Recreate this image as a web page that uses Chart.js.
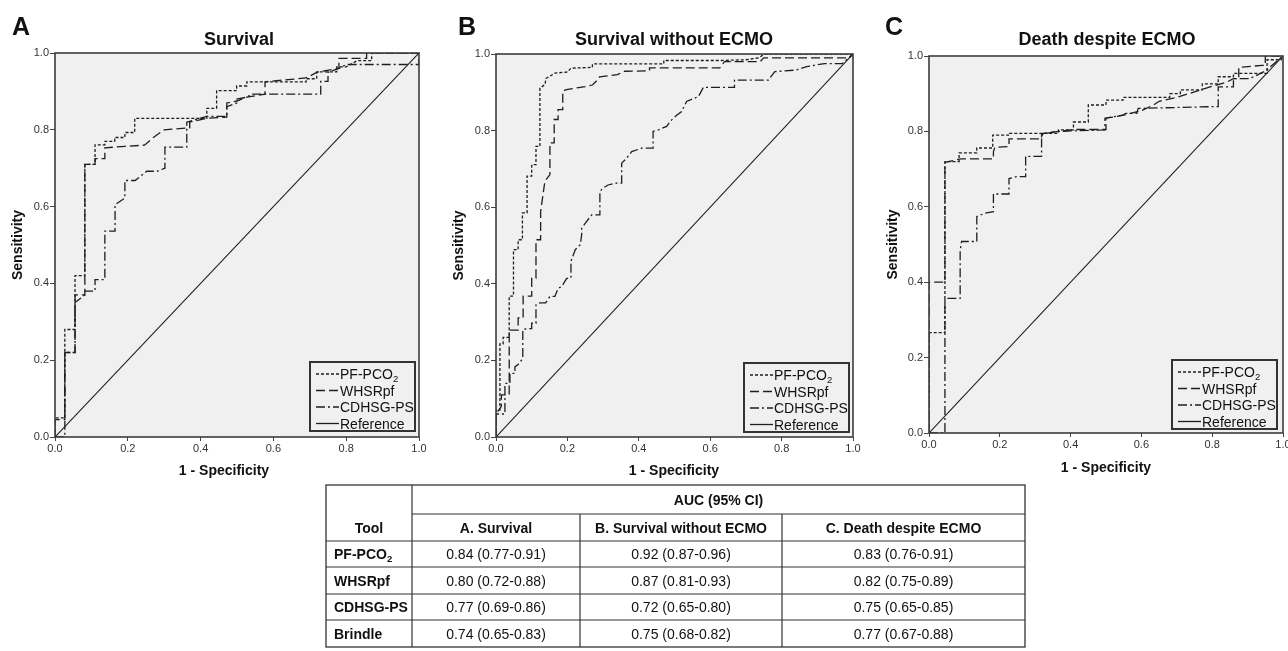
<!DOCTYPE html>
<html><head><meta charset="utf-8">
<script src="https://cdn.jsdelivr.net/npm/chart.js@4.4.1/dist/chart.umd.min.js"></script>
<style>
html,body{margin:0;padding:0;background:#fff;width:1288px;height:651px;overflow:hidden;position:relative;}
canvas{position:absolute;top:0;}
#ov{position:absolute;left:0;top:0;}
</style></head><body>
<canvas id="cA"></canvas><canvas id="cB"></canvas><canvas id="cC"></canvas>
<svg id="ov" width="1288" height="651" xmlns="http://www.w3.org/2000/svg"></svg>
<script>
// ---------------- data ----------------
const AXIS_TICKS = [0, 0.2, 0.4, 0.6, 0.8, 1.0];
const SERIES_NAMES = ['PF-PCO2', 'WHSRpf', 'CDHSG-PS', 'Reference'];
const PANEL_LETTERS = ['A', 'B', 'C'];
const PANEL_TITLES = ['Survival', 'Survival without ECMO', 'Death despite ECMO'];
const X_TITLE = '1 - Specificity';
const Y_TITLE = 'Sensitivity';

// Panel A - Survival
const A_PF_X = [0,0,0.027,0.027,0.055,0.055,0.082,0.082,0.11,0.11,0.137,0.137,0.164,0.164,0.192,0.192,0.219,0.219,0.417,0.417,0.444,0.444,0.499,0.499,0.527,0.527,0.69,0.69,0.719,0.719,0.774,0.774,0.80,0.83,0.87,0.87,1];
const A_PF_Y = [0,0.05,0.05,0.28,0.28,0.42,0.42,0.71,0.71,0.761,0.761,0.77,0.77,0.78,0.78,0.793,0.793,0.83,0.83,0.856,0.856,0.902,0.902,0.914,0.914,0.925,0.925,0.933,0.933,0.951,0.951,0.964,0.964,0.98,0.98,1,1];
const A_WH_X = [0,0,0.027,0.027,0.055,0.055,0.082,0.082,0.11,0.11,0.137,0.137,0.192,0.246,0.27,0.30,0.37,0.37,0.417,0.472,0.472,0.50,0.527,0.577,0.577,0.69,0.72,0.78,0.78,0.856,0.856,1];
const A_WH_Y = [0,0.045,0.045,0.22,0.22,0.37,0.37,0.71,0.71,0.725,0.725,0.753,0.757,0.76,0.78,0.80,0.805,0.82,0.83,0.833,0.87,0.875,0.885,0.893,0.925,0.935,0.95,0.96,0.986,0.986,1,1];
const A_CD_X = [0,0.027,0.027,0.055,0.055,0.082,0.082,0.11,0.11,0.137,0.137,0.165,0.165,0.192,0.192,0.22,0.252,0.28,0.302,0.302,0.362,0.362,0.417,0.472,0.472,0.50,0.50,0.527,0.54,0.73,0.73,0.75,0.75,0.78,0.80,1,1];
const A_CD_Y = [0,0,0.22,0.22,0.35,0.37,0.38,0.38,0.41,0.41,0.536,0.536,0.605,0.622,0.668,0.668,0.692,0.692,0.70,0.755,0.755,0.82,0.835,0.835,0.86,0.87,0.88,0.885,0.893,0.893,0.926,0.926,0.95,0.96,0.97,0.97,1];

// Panel B - Survival without ECMO
const B_PF_X = [0,0,0.011,0.011,0.02,0.02,0.037,0.037,0.049,0.049,0.062,0.062,0.074,0.074,0.087,0.087,0.10,0.10,0.112,0.112,0.123,0.123,0.137,0.14,0.151,0.165,0.20,0.21,0.27,0.27,0.47,0.47,0.63,0.70,0.735,0.753,1];
const B_PF_Y = [0,0.07,0.07,0.243,0.243,0.26,0.26,0.368,0.368,0.489,0.489,0.515,0.515,0.585,0.585,0.681,0.681,0.711,0.711,0.759,0.759,0.911,0.92,0.936,0.942,0.95,0.953,0.963,0.965,0.974,0.974,0.983,0.983,0.985,0.99,1,1];
const B_WH_X = [0,0,0.015,0.015,0.037,0.037,0.062,0.062,0.076,0.076,0.10,0.10,0.112,0.112,0.125,0.125,0.137,0.151,0.151,0.163,0.163,0.174,0.174,0.187,0.187,0.197,0.25,0.27,0.28,0.29,0.34,0.36,0.43,0.43,0.627,0.64,0.74,0.75,0.99,1];
const B_WH_Y = [0,0.06,0.08,0.11,0.11,0.279,0.279,0.311,0.311,0.368,0.368,0.415,0.415,0.515,0.515,0.589,0.668,0.685,0.768,0.768,0.829,0.829,0.855,0.855,0.903,0.907,0.915,0.919,0.928,0.94,0.946,0.955,0.956,0.964,0.964,0.98,0.98,0.99,0.99,1];
const B_CD_X = [0,0,0.025,0.025,0.039,0.039,0.053,0.053,0.0625,0.075,0.075,0.086,0.10,0.10,0.112,0.112,0.123,0.139,0.151,0.165,0.174,0.184,0.198,0.21,0.21,0.222,0.236,0.24,0.24,0.254,0.268,0.291,0.291,0.30,0.314,0.338,0.352,0.352,0.366,0.38,0.408,0.44,0.44,0.455,0.478,0.492,0.506,0.52,0.534,0.567,0.581,0.668,0.668,0.763,0.781,0.84,0.87,0.92,0.97,1];
const B_CD_Y = [0,0.06,0.06,0.14,0.14,0.166,0.166,0.183,0.19,0.205,0.28,0.283,0.283,0.297,0.297,0.345,0.35,0.35,0.367,0.367,0.388,0.393,0.414,0.415,0.459,0.489,0.502,0.528,0.545,0.563,0.58,0.58,0.641,0.65,0.658,0.663,0.663,0.715,0.728,0.745,0.754,0.754,0.798,0.802,0.811,0.828,0.84,0.85,0.876,0.889,0.913,0.913,0.932,0.932,0.954,0.958,0.967,0.975,0.975,1];

// Panel C - Death despite ECMO
const C_PF_X = [0,0,0.045,0.045,0.085,0.085,0.135,0.135,0.18,0.18,0.227,0.227,0.366,0.366,0.408,0.408,0.45,0.45,0.50,0.50,0.548,0.548,0.68,0.68,0.71,0.71,0.772,0.772,0.817,0.817,0.86,0.86,0.955,0.955,0.995,0.995,1];
const C_PF_Y = [0,0.266,0.266,0.72,0.72,0.743,0.743,0.756,0.756,0.79,0.79,0.795,0.795,0.804,0.804,0.825,0.825,0.87,0.87,0.883,0.883,0.89,0.89,0.90,0.90,0.91,0.91,0.926,0.926,0.945,0.945,0.954,0.954,0.99,0.99,1,1];
const C_WH_X = [0,0,0.045,0.045,0.09,0.172,0.182,0.182,0.186,0.224,0.226,0.226,0.31,0.318,0.318,0.366,0.408,0.50,0.50,0.55,0.60,0.634,0.65,0.70,0.75,0.80,0.84,0.86,0.875,0.875,0.94,0.95,0.95,1];
const C_WH_Y = [0,0.40,0.40,0.718,0.727,0.727,0.727,0.746,0.758,0.76,0.76,0.78,0.78,0.78,0.794,0.80,0.805,0.805,0.835,0.843,0.855,0.87,0.88,0.89,0.905,0.92,0.93,0.94,0.94,0.97,0.975,0.975,1,1];
const C_CD_X = [0,0.045,0.045,0.088,0.088,0.092,0.135,0.135,0.158,0.182,0.182,0.226,0.226,0.248,0.273,0.273,0.318,0.318,0.323,0.366,0.497,0.497,0.547,0.556,0.587,0.591,0.817,0.817,0.86,0.86,0.906,0.95,1];
const C_CD_Y = [0,0,0.357,0.357,0.483,0.508,0.508,0.574,0.583,0.587,0.634,0.634,0.675,0.68,0.68,0.734,0.734,0.787,0.794,0.80,0.804,0.835,0.843,0.848,0.848,0.861,0.866,0.918,0.918,0.94,0.94,0.96,1];

const REF_X = [0, 1];
const REF_Y = [0, 1];

// Table
const TABLE_GROUP = 'AUC (95% CI)';
const TABLE_HEAD = ['Tool', 'A. Survival', 'B. Survival without ECMO', 'C. Death despite ECMO'];
const TOOLS = ['PF-PCO2', 'WHSRpf', 'CDHSG-PS', 'Brindle'];
const AUC_A = ['0.84 (0.77-0.91)', '0.80 (0.72-0.88)', '0.77 (0.69-0.86)', '0.74 (0.65-0.83)'];
const AUC_B = ['0.92 (0.87-0.96)', '0.87 (0.81-0.93)', '0.72 (0.65-0.80)', '0.75 (0.68-0.82)'];
const AUC_C = ['0.83 (0.76-0.91)', '0.82 (0.75-0.89)', '0.75 (0.65-0.85)', '0.77 (0.67-0.88)'];

// ---------------- styles / layout ----------------
const DASHES = [[3,2], [9,4], [9,3,2,3], []];
const LINE_COLOR = '#1e1e1e';
const PLOT_BG = '#f0f0f0';
const CANVAS_H = 480;
const PANELS = [
  {id:'cA', cl:0,   cw:440, area:{left:55, top:53, right:419, bottom:437}, letterX:12, titleX:239, xTitle:{x:224,y:475}, yTitleX:22, legend:{x:310,y:362},
   series:[[A_PF_X,A_PF_Y],[A_WH_X,A_WH_Y],[A_CD_X,A_CD_Y],[REF_X,REF_Y]]},
  {id:'cB', cl:441, cw:430, area:{left:496, top:54, right:853, bottom:437}, letterX:458, titleX:674, xTitle:{x:674,y:475}, yTitleX:463, legend:{x:744,y:363},
   series:[[B_PF_X,B_PF_Y],[B_WH_X,B_WH_Y],[B_CD_X,B_CD_Y],[REF_X,REF_Y]]},
  {id:'cC', cl:874, cw:430, area:{left:929, top:56, right:1283, bottom:433}, letterX:885, titleX:1107, xTitle:{x:1106,y:472}, yTitleX:897, legend:{x:1172,y:360},
   series:[[C_PF_X,C_PF_Y],[C_WH_X,C_WH_Y],[C_CD_X,C_CD_Y],[REF_X,REF_Y]]}
];

const plotFrame = {
  id: 'plotFrame',
  beforeDraw(chart) {
    const {ctx, chartArea: a} = chart;
    ctx.save(); ctx.fillStyle = PLOT_BG;
    ctx.fillRect(a.left, a.top, a.right - a.left, a.bottom - a.top); ctx.restore();
  },
  afterDatasetsDraw(chart) {
    const {ctx, chartArea: a} = chart;
    ctx.save(); ctx.strokeStyle = '#3c3c3c'; ctx.lineWidth = 1.6;
    ctx.strokeRect(a.left, a.top, a.right - a.left, a.bottom - a.top); ctx.restore();
  }
};

function axisOpts(isX, p) {
  return {
    type: 'linear', min: 0, max: 1,
    afterFit: s => { if (isX) s.height = CANVAS_H - p.area.bottom; else s.width = p.area.left - p.cl; },
    afterBuildTicks: s => { s.ticks = AXIS_TICKS.map(v => ({value: v})); },
    ticks: { callback: v => Number(v).toFixed(1), font: {family: 'Liberation Sans', size: 11}, color: '#333',
             padding: 1, maxRotation: 0, autoSkip: false },
    grid: { drawOnChartArea: false, drawTicks: true, tickLength: isX ? 4 : 5, color: '#444', lineWidth: 1 },
    border: { display: false }
  };
}

PANELS.forEach(p => {
  const cv = document.getElementById(p.id);
  cv.width = p.cw; cv.height = CANVAS_H;
  cv.style.left = p.cl + 'px'; cv.style.width = p.cw + 'px'; cv.style.height = CANVAS_H + 'px';
  new Chart(cv, {
    type: 'scatter',
    data: { datasets: p.series.map((s, i) => ({
      label: SERIES_NAMES[i],
      data: s[0].map((v, k) => ({x: v, y: s[1][k]})),
      showLine: true, pointRadius: 0, pointHoverRadius: 0, fill: false, tension: 0,
      borderColor: LINE_COLOR, borderWidth: i === 3 ? 1.1 : 1.3, borderDash: DASHES[i]
    })) },
    options: {
      responsive: false, animation: false, devicePixelRatio: 1,
      layout: { padding: { left: 0, top: p.area.top, right: p.cl + p.cw - p.area.right, bottom: 0 } },
      plugins: { legend: { display: false }, tooltip: { enabled: false } },
      scales: { x: axisOpts(true, p), y: axisOpts(false, p) }
    },
    plugins: [plotFrame]
  });
});

// ---------------- SVG text overlay ----------------
const NS = 'http://www.w3.org/2000/svg';
const svg = document.getElementById('ov');
function el(tag, attrs, parent) {
  const e = document.createElementNS(NS, tag);
  for (const k in attrs) e.setAttribute(k, attrs[k]);
  (parent || svg).appendChild(e); return e;
}
function text(x, y, str, o) {
  o = o || {};
  const t = el('text', {x, y, 'font-family': o.fam || 'Liberation Sans, Arial, sans-serif', 'font-size': o.size || 12,
    'font-weight': o.bold ? 'bold' : 'normal', 'text-anchor': o.anchor || 'start', fill: o.color || '#111'});
  if (o.rot) t.setAttribute('transform', `rotate(${o.rot} ${x} ${y})`);
  const m = /^(.*CO)2$/.exec(str);
  if (m && o.sub) {
    t.appendChild(document.createTextNode(m[1]));
    const ts = el('tspan', {'font-size': (o.size || 12) * 0.68, dy: (o.size || 12) * 0.22}, t);
    ts.textContent = '2';
  } else t.textContent = str;
  return t;
}

PANELS.forEach((p, i) => {
  const a = p.area;
  text(p.letterX, 35, PANEL_LETTERS[i], {size: 25, bold: true});
  text(p.titleX, 44.5, PANEL_TITLES[i], {size: 18, bold: true, anchor: 'middle'});
  text(p.xTitle.x, p.xTitle.y, X_TITLE, {size: 14, bold: true, anchor: 'middle'});
  text(p.yTitleX, (a.top + a.bottom) / 2, Y_TITLE, {size: 14, bold: true, anchor: 'middle', rot: -90});
  // legend
  const L = p.legend;
  el('rect', {x: L.x, y: L.y, width: 105, height: 69, fill: PLOT_BG, stroke: '#333', 'stroke-width': 2});
  SERIES_NAMES.forEach((n, k) => {
    const cy = L.y + 12 + k * 16.5;
    el('line', {x1: L.x + 6, x2: L.x + 29, y1: cy, y2: cy, stroke: LINE_COLOR, 'stroke-width': 1.3,
      'stroke-dasharray': DASHES[k].length ? DASHES[k].join(' ') : 'none'});
    text(L.x + 30, cy + 5, n, {size: 14, sub: true, color: '#111'});
  });
});

// table
const COLX = [326, 412, 580, 782, 1025];
const ROWY = [485, 514, 541, 567, 594, 620, 647];
const TF = {fam: 'Liberation Sans, Arial, sans-serif', size: 14};
const LC = '#333';
el('rect', {x: COLX[0], y: ROWY[0], width: COLX[4] - COLX[0], height: ROWY[6] - ROWY[0], fill: 'none', stroke: LC, 'stroke-width': 1.3});
el('line', {x1: COLX[1], x2: COLX[4], y1: ROWY[1], y2: ROWY[1], stroke: LC, 'stroke-width': 1.2});
for (let r = 2; r < 6; r++) el('line', {x1: COLX[0], x2: COLX[4], y1: ROWY[r], y2: ROWY[r], stroke: LC, 'stroke-width': 1.2});
el('line', {x1: COLX[1], x2: COLX[1], y1: ROWY[0], y2: ROWY[6], stroke: LC, 'stroke-width': 1.2});
for (let c = 2; c < 4; c++) el('line', {x1: COLX[c], x2: COLX[c], y1: ROWY[1], y2: ROWY[6], stroke: LC, 'stroke-width': 1.2});
const base = (r) => (ROWY[r] + ROWY[r + 1]) / 2 + TF.size * 0.36;
text((COLX[1] + COLX[4]) / 2, base(0), TABLE_GROUP, {fam: TF.fam, size: TF.size, bold: true, anchor: 'middle'});
TABLE_HEAD.forEach((h, c) => text((COLX[c] + COLX[c + 1]) / 2, base(1), h, {fam: TF.fam, size: TF.size, bold: true, anchor: 'middle'}));
const COLS_DATA = [AUC_A, AUC_B, AUC_C];
TOOLS.forEach((t, r) => {
  text(COLX[0] + 8, base(r + 2), t, {fam: TF.fam, size: TF.size, bold: true, sub: true});
  COLS_DATA.forEach((col, c) => text((COLX[c + 1] + COLX[c + 2]) / 2, base(r + 2), col[r], {fam: TF.fam, size: TF.size, anchor: 'middle'}));
});
</script>
</body></html>
